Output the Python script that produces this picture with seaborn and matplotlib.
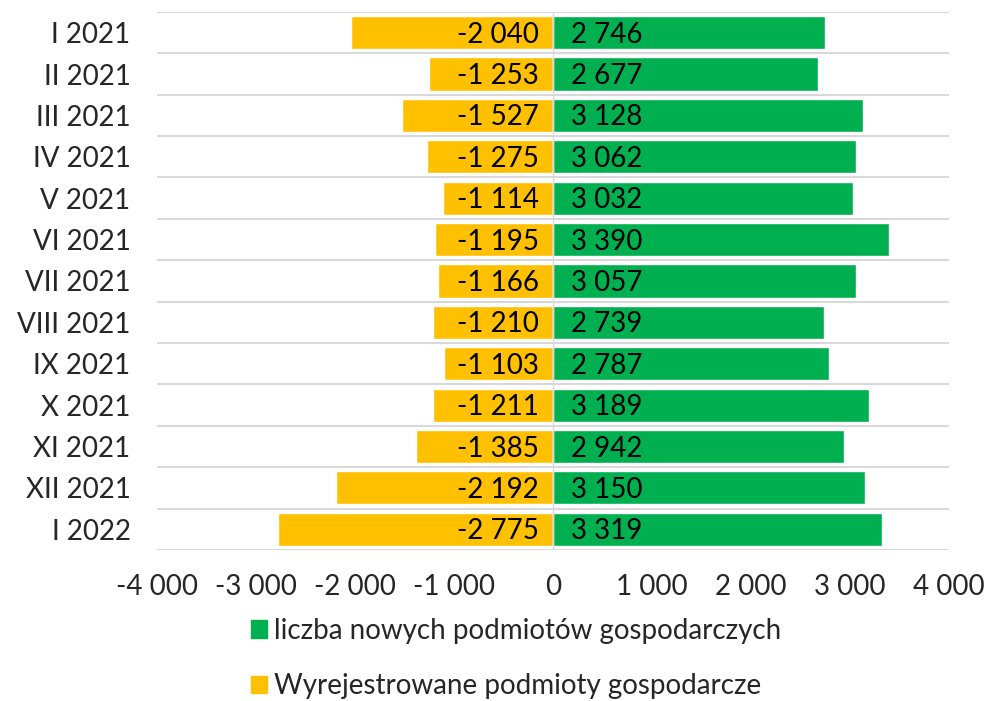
import pandas as pd
import matplotlib.pyplot as plt
import seaborn as sns
from matplotlib.patches import Patch

months = ["I 2021", "II 2021", "III 2021", "IV 2021", "V 2021", "VI 2021", "VII 2021",
          "VIII 2021", "IX 2021", "X 2021", "XI 2021", "XII 2021", "I 2022"]
new_firms = [2746, 2677, 3128, 3062, 3032, 3390, 3057, 2739, 2787, 3189, 2942, 3150, 3319]
removed_firms = [-2040, -1253, -1527, -1275, -1114, -1195, -1166, -1210, -1103, -1211, -1385, -2192, -2775]
ticks = [-4000, -3000, -2000, -1000, 0, 1000, 2000, 3000, 4000]

green = "#00B050"
yellow = "#FFC000"

df = pd.DataFrame({"Miesiąc": months, "nowe": new_firms, "wyrejestrowane": removed_firms})

sns.set_theme(style="white")
plt.rcParams["font.family"] = ["Lato", "DejaVu Sans"]


def fmt(v):
    return f"{v:,}".replace(",", " ")


fig = plt.figure(figsize=(9.87, 7.01), dpi=100)
ax = fig.add_axes([0.159, 0.2154, 0.8025, 0.7676])

sns.barplot(data=df, y="Miesiąc", x="wyrejestrowane", color=yellow, orient="h",
            width=0.8, saturation=1, ax=ax)
sns.barplot(data=df, y="Miesiąc", x="nowe", color=green, orient="h",
            width=0.8, saturation=1, ax=ax)

for i in range(len(months)):
    ax.annotate(fmt(removed_firms[i]), (0, i), xytext=(-10, -1.5), textcoords="offset points",
                ha="right", va="center", fontsize=20, color="black")
    ax.annotate(fmt(new_firms[i]), (0, i), xytext=(13, -1.5), textcoords="offset points",
                ha="left", va="center", fontsize=20, color="black")

# separators between categories
for b in range(len(months) + 1):
    ax.axhline(b - 0.5, color="#d9d9d9", linewidth=1.5, zorder=0)
ax.axvline(0, color="#d9d9d9", linewidth=1, zorder=3)

ax.set_xlim(-4000, 4000)
ax.set_ylim(len(months) - 0.5, -0.5)
ax.set_xticks(ticks)
ax.set_xticklabels([fmt(t) for t in ticks], fontsize=20)
ax.tick_params(axis="y", labelsize=20, pad=19, length=0)
ax.tick_params(axis="x", pad=17, length=0)
ax.set_xlabel("")
ax.set_ylabel("")
for s in ax.spines.values():
    s.set_visible(False)

handles = [Patch(color=green, label="liczba nowych podmiotów gospodarczych"),
           Patch(color=yellow, label="Wyrejestrowane podmioty gospodarcze")]
fig.legend(handles=handles, loc="lower center", bbox_to_anchor=(0.523, -0.033), ncol=1,
           frameon=False, fontsize=20, handlelength=0.6, handleheight=0.6,
           handletextpad=0.25, labelspacing=1.05)

fig.savefig("out.png", dpi=100)
